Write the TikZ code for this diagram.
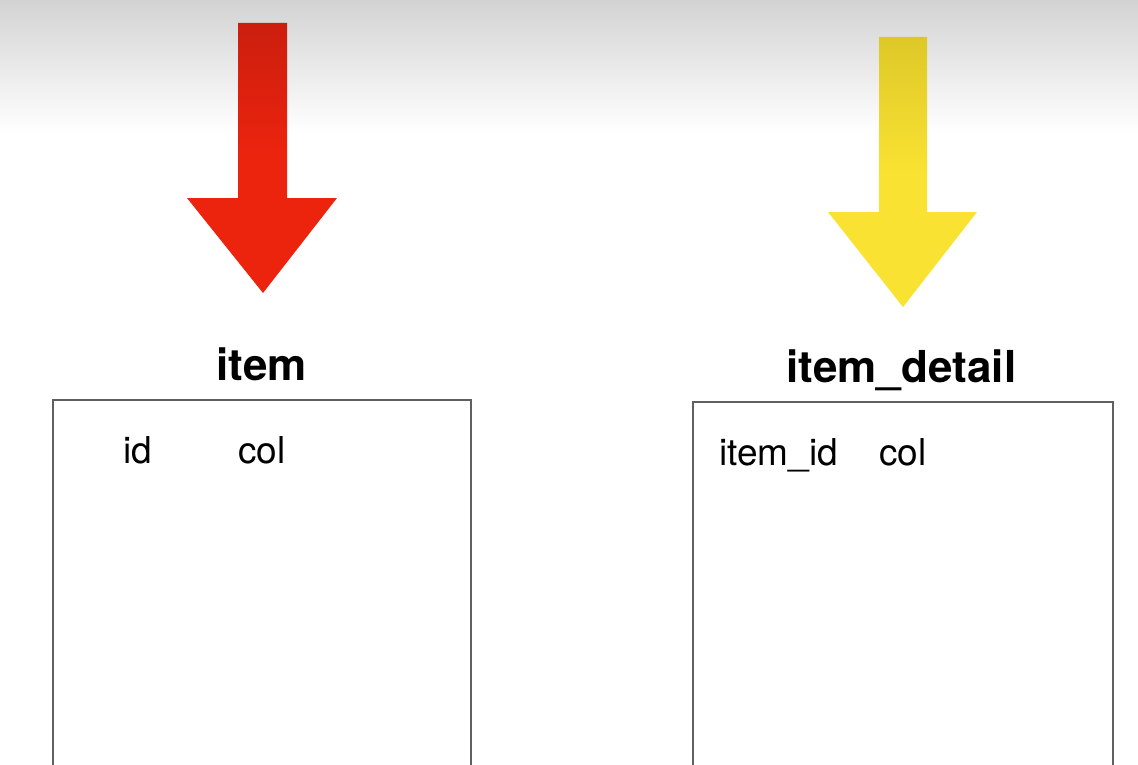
\documentclass[tikz,border=0pt]{standalone}
\usepackage{fontspec}
\setmainfont{TeX Gyre Heros}
\usepackage{xcolor}
\usepackage{tikz}
\usetikzlibrary{calc,positioning}
\definecolor{arrowred}{RGB}{236,36,14}
\definecolor{arrowreddark}{RGB}{204,30,14}
\definecolor{arrowyellow}{RGB}{250,226,50}
\definecolor{arrowyellowdark}{RGB}{222,200,40}
\definecolor{topgray}{RGB}{211,211,211}
\definecolor{boxline}{RGB}{96,96,96}

\begin{document}
\begin{tikzpicture}[
  x=1pt, y=-1pt,
  title/.style={inner sep=0pt, anchor=base, font=\fontsize{44pt}{52pt}\selectfont\bfseries},
  colname/.style={inner sep=0pt, anchor=base west, font=\fontsize{37pt}{44pt}\selectfont},
  tablebox/.style={draw=boxline, line width=1.4pt},
  redarrow/.style={top color=arrowreddark, bottom color=arrowred, middle color=arrowred},
  yellowarrow/.style={top color=arrowyellowdark, bottom color=arrowyellow, middle color=arrowyellow}
]
\useasboundingbox (0,0) rectangle (1138,765);
\clip (0,0) rectangle (1138,765);
% background
\fill[white] (0,0) rectangle (1138,765);
\shade[top color=topgray, bottom color=white] (0,0) rectangle (1138,132);

% arrows
\shade[redarrow] (238,23) -- (287,23) -- (287,198) -- (337,198) -- (263,293)
  -- (187,198) -- (238,198) -- cycle;
\shade[yellowarrow] (879,37) -- (927,37) -- (927,212) -- (977,212) -- (903,307)
  -- (828,212) -- (879,212) -- cycle;

% table titles
\node[title] (itemtitle) at (261.5,380) {item};
\node[title] (detailtitle) at (901.5,382) {item\_detail};

% tables
\coordinate (itemtl) at (53,400);
\coordinate (itemtr) at (471,400);
\coordinate (detailtl) at (693,402);
\coordinate (detailtr) at (1113,402);
\draw[tablebox] (itemtl) -- (itemtr) -- ++(0,380) -- ($(itemtl)+(0,380)$) -- cycle;
\draw[tablebox] (detailtl) -- (detailtr) -- ++(0,380) -- ($(detailtl)+(0,380)$) -- cycle;

% columns
\node[colname] (itemid) at (123,463) {id};
\node[colname] (itemcol) at (238,463) {col};
\node[colname] (detailid) at (719,465) {item\_id};
\node[colname] (detailcol) at (879,465) {col};
\end{tikzpicture}
\end{document}
